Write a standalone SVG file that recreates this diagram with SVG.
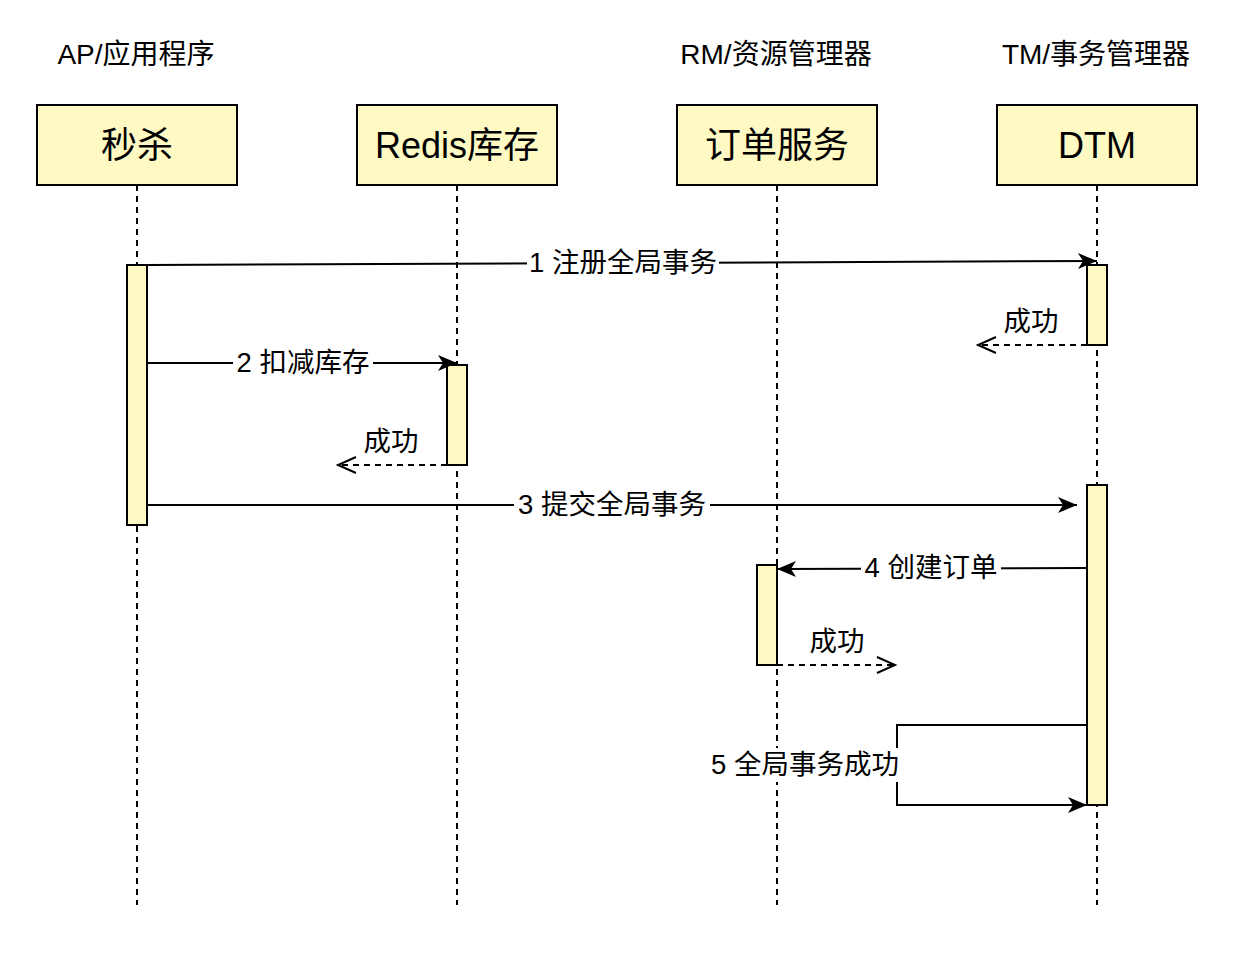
<svg xmlns="http://www.w3.org/2000/svg" width="1236" height="958" viewBox="0 0 1236 958">
<style>
text{font-family:"Liberation Sans","Noto Sans CJK SC",sans-serif;fill:#000}
.hdr{font-size:28px;text-anchor:middle}
.nt{font-size:36px;text-anchor:middle}
.ml{font-size:27.5px;text-anchor:middle}
.box{fill:#fff9c4;stroke:#000;stroke-width:2}
.life{stroke:#000;stroke-width:2;stroke-dasharray:6 5;fill:none}
.act{fill:#fff9c4;stroke:#000;stroke-width:2}
.msg{stroke:#000;stroke-width:2;fill:none;marker-end:url(#arr)}
.ret{stroke:#000;stroke-width:2;fill:none;stroke-dasharray:6 5;marker-end:url(#open)}
.bg{fill:#fff}
</style>
<defs>
<marker id="arr" markerUnits="userSpaceOnUse" markerWidth="22" markerHeight="18" refX="20" refY="9" orient="auto">
<path d="M1,1 L20,9 L1,17 L6,9 Z" fill="#000"/>
</marker>
<marker id="open" markerUnits="userSpaceOnUse" markerWidth="24" markerHeight="20" refX="21" refY="10" orient="auto">
<path d="M3,2 L21,10 L3,18" fill="none" stroke="#000" stroke-width="2"/>
</marker>
</defs>
<rect width="1236" height="958" fill="#fff"/>
<g id="headers">
<text class="hdr" x="136" y="64">AP/应用程序</text>
<text class="hdr" x="776" y="64">RM/资源管理器</text>
<text class="hdr" x="1096" y="64">TM/事务管理器</text>
</g>
<g id="lifelines">
<line class="life" x1="137" y1="185" x2="137" y2="905"/>
<line class="life" x1="457" y1="185" x2="457" y2="905"/>
<line class="life" x1="777" y1="185" x2="777" y2="905"/>
<line class="life" x1="1097" y1="185" x2="1097" y2="905"/>
</g>
<g id="node-seckill">
<rect class="box" x="37" y="105" width="200" height="80"/>
<text class="nt" x="137" y="158">秒杀</text>
</g>
<g id="node-redis">
<rect class="box" x="357" y="105" width="200" height="80"/>
<text class="nt" x="457" y="158">Redis库存</text>
</g>
<g id="node-order">
<rect class="box" x="677" y="105" width="200" height="80"/>
<text class="nt" x="777" y="158">订单服务</text>
</g>
<g id="node-dtm">
<rect class="box" x="997" y="105" width="200" height="80"/>
<text class="nt" x="1097" y="158">DTM</text>
</g>
<g id="activations">
<rect class="act" x="127" y="265" width="20" height="260"/>
<rect class="act" x="1087" y="265" width="20" height="80"/>
<rect class="act" x="447" y="365" width="20" height="100"/>
<rect class="act" x="1087" y="485" width="20" height="320"/>
<rect class="act" x="757" y="565" width="20" height="100"/>
</g>
<g id="connectors">
<line class="msg" x1="147" y1="265" x2="1097" y2="261"/>
<rect class="bg" x="527" y="247" width="192" height="32"/>
<text class="ml" x="623" y="272">1 注册全局事务</text>

<line class="ret" x1="1087" y1="345" x2="978" y2="345"/>
<text class="ml" x="1031" y="331">成功</text>

<line class="msg" x1="147" y1="363" x2="457" y2="363"/>
<rect class="bg" x="233" y="347" width="140" height="32"/>
<text class="ml" x="303" y="372">2 扣减库存</text>

<line class="ret" x1="447" y1="465" x2="338" y2="465"/>
<text class="ml" x="391" y="451">成功</text>

<line class="msg" x1="147" y1="505" x2="1077" y2="505"/>
<rect class="bg" x="514" y="489" width="196" height="32"/>
<text class="ml" x="612" y="514">3 提交全局事务</text>

<line class="msg" x1="1087" y1="568" x2="777" y2="569"/>
<rect class="bg" x="861" y="552" width="140" height="32"/>
<text class="ml" x="931" y="577">4 创建订单</text>

<line class="ret" x1="777" y1="665" x2="895" y2="665"/>
<text class="ml" x="837" y="651">成功</text>

<path class="msg" d="M1087,725 H897 V805 H1087"/>
<rect class="bg" x="703" y="748" width="198" height="34"/>
<text class="ml" x="899" y="774" style="text-anchor:end">5 全局事务成功</text>
</g>
</svg>
